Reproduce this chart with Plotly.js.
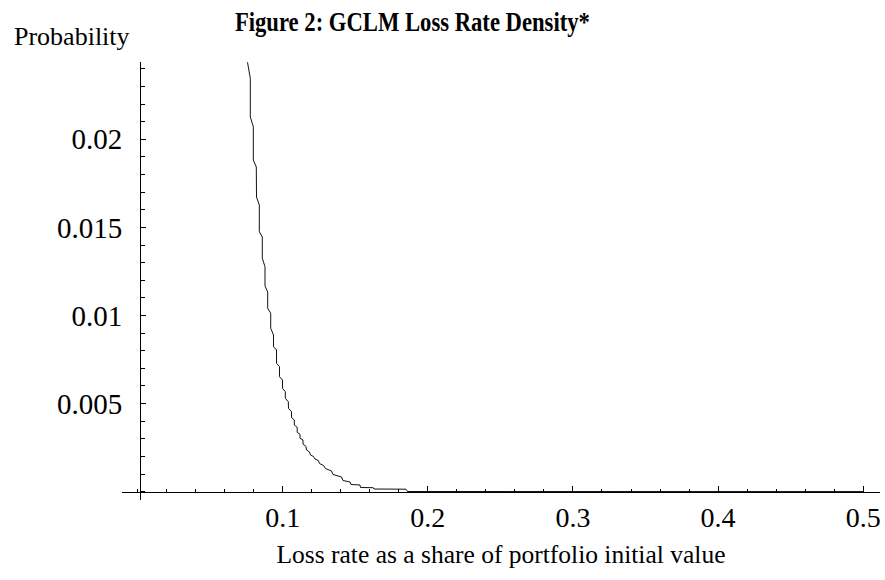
<!DOCTYPE html>
<html><head><meta charset="utf-8">
<script src="https://cdn.plot.ly/plotly-3.0.1.min.js"></script>
<style>html,body{margin:0;padding:0;background:#fff}</style>
</head><body><div id="chart" style="width:885px;height:580px"></div>
<script>
// Loss rate (share of portfolio initial value) and probability
const lossRate = [0.07578,0.07771,0.07771,0.07978,0.07978,0.08185,0.08198,0.08391,0.08391,0.08598,0.08598,
  0.08784,0.08784,0.08970,0.08970,0.09177,0.09177,0.09370,0.09370,0.09576,0.09576,0.09783,0.09783,
  0.09990,0.09990,0.10183,0.10183,0.10389,0.10403,0.10610,0.10610,0.10803,0.10803,0.11002,0.11002,
  0.11195,0.11195,0.11402,0.11402,0.11609,0.11643,0.11850,0.11919,0.12126,0.12229,0.12456,0.12539,
  0.12814,0.12952,0.13365,0.13469,0.14054,0.14158,0.14640,0.14709,0.15329,0.15363,0.16245,0.16293,
  0.18498,0.18601,0.5];
const probability = [0.024370,0.023462,0.021266,0.020715,0.018825,0.018428,0.016725,0.016271,0.014756,0.014455,0.013246,
  0.012770,0.011674,0.011334,0.010409,0.010125,0.009274,0.008893,0.008229,0.008042,0.007287,0.007094,0.006527,
  0.006339,0.005868,0.005675,0.005301,0.005108,0.004733,0.004540,0.004211,0.004069,0.003785,0.003655,0.003371,
  0.003258,0.003031,0.002934,0.002707,0.002565,0.002367,0.002253,0.002083,0.001998,0.001856,0.001771,0.001600,
  0.001487,0.001317,0.001175,0.000976,0.000834,0.000636,0.000551,0.000409,0.000380,0.000238,0.000227,0.000153,
  0.000142,0.000011,0.000008];
const xTickVals = [0.1, 0.2, 0.3, 0.4, 0.5];
const xTickText = ["0.1", "0.2", "0.3", "0.4", "0.5"];
const yTickVals = [0.005, 0.01, 0.015, 0.02];
const yTickText = ["0.005", "0.01", "0.015", "0.02"];

const serif = "Liberation Serif, Times New Roman, serif";

const trace = {
  x: lossRate, y: probability, type: 'scatter', mode: 'lines',
  line: {color: '#111', width: 1}, hoverinfo: 'skip', cliponaxis: true
};

const layout = {
  width: 885, height: 580,
  margin: {l: 122, r: 5, t: 62, b: 80, pad: 0},
  paper_bgcolor: '#fff', plot_bgcolor: '#fff',
  showlegend: false,
  font: {family: serif, color: '#000', size: 27},
  title: {
    text: '<b>Figure 2: GCLM Loss Rate Density*</b>',
    font: {family: serif, size: 27, color: '#000'},
    xref: 'container', yref: 'container',
    x: 0.466, xanchor: 'center', y: 0.963, yanchor: 'middle'
  },
  xaxis: {
    range: [-0.01068, 0.51154], anchor: 'free', position: 0.01895,
    showline: true, linecolor: '#000', linewidth: 1,
    showgrid: false, zeroline: false,
    tickmode: 'array', tickvals: xTickVals, ticktext: xTickText,
    ticks: 'inside', ticklen: 6, tickcolor: '#000', tickwidth: 1,
    tickfont: {family: serif, size: 28, color: '#000'},
    ticklabelstandoff: 1,
    minor: {ticks: 'inside', ticklen: 3, dtick: 0.02, tick0: 0, tickcolor: '#000', tickwidth: 1, showgrid: false},
    title: {text: 'Loss rate as a share of portfolio initial value', font: {family: serif, size: 25.5, color: '#000'}, standoff: 12}
  },
  yaxis: {
    range: [-0.000471, 0.024387], anchor: 'free', position: 0.02375,
    showline: true, linecolor: '#000', linewidth: 1,
    showgrid: false, zeroline: false,
    tickmode: 'array', tickvals: yTickVals, ticktext: yTickText,
    ticks: 'inside', ticklen: 5, tickcolor: '#000', tickwidth: 1,
    tickfont: {family: serif, size: 29, color: '#000'},
    ticklabelstandoff: 12,
    minor: {ticks: 'inside', ticklen: 4, dtick: 0.001, tick0: 0, tickcolor: '#000', tickwidth: 1, showgrid: false}
  },
  annotations: [{
    text: 'Probability', xref: 'paper', yref: 'paper',
    x: -0.1451, xanchor: 'left', y: 1.0571, yanchor: 'middle',
    showarrow: false, font: {family: serif, size: 26, color: '#000'}
  }]
};

Plotly.newPlot('chart', [trace], layout, {staticPlot: true, displayModeBar: false}).then(function (gd) {
  // the reference title is set in a condensed bold face: fit it to its measured width
  const t = gd.querySelector('.gtitle');
  if (t) {
    t.setAttribute('textLength', '355');
    t.setAttribute('lengthAdjust', 'spacingAndGlyphs');
  }
});
</script>
</body></html>
